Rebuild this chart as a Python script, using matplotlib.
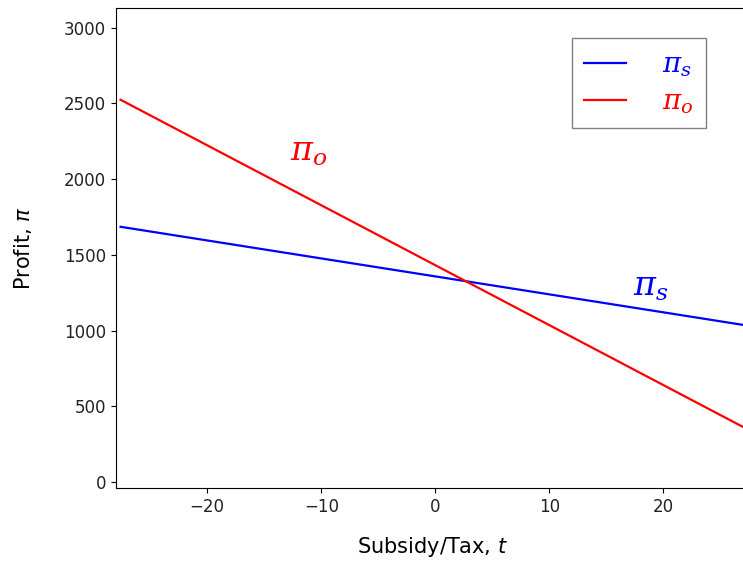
import matplotlib
matplotlib.use("Agg")
from matplotlib import pyplot as plt

# данные
t = [-27.6, 27.6]
pi_s = [1685, 1030]
pi_o = [2524, 339]

plt.rcParams['mathtext.fontset'] = 'dejavuserif'

fig = plt.figure(figsize=(7.43, 5.68), dpi=100)
ax = fig.add_axes([116 / 743, 80 / 568, 634 / 743, 480 / 568])

ax.plot(t, pi_s, color='blue', lw=1.6, label=r'$\pi_s$')
ax.plot(t, pi_o, color='red', lw=1.6, label=r'$\pi_o$')

ax.set_xlim(-28, 27.6)
ax.set_ylim(-40, 3130)
ax.set_xticks([-20, -10, 0, 10, 20])
ax.set_yticks([0, 500, 1000, 1500, 2000, 2500, 3000])
ax.tick_params(labelsize=12, labelcolor='#222222')

ax.set_xlabel(r'Subsidy/Tax, $t$', fontsize=15, labelpad=14,
              math_fontfamily='dejavusans')
ax.set_ylabel(r'Profit, $\pi$', fontsize=15, labelpad=22,
              math_fontfamily='dejavusans')

# подписи у линий
ax.text(-12.7, 2120, r'$\pi_o$', color='red', fontsize=24)
ax.text(17.3, 1230, r'$\pi_s$', color='blue', fontsize=24)

leg = ax.legend(loc='upper left', bbox_to_anchor=(0.719, 0.9375), fontsize=20,
                fancybox=False, edgecolor='gray', framealpha=1,
                handlelength=1.5, handletextpad=1.3, borderpad=0.45,
                borderaxespad=0, labelspacing=0.3)
for txt, line in zip(leg.get_texts(), leg.get_lines()):
    txt.set_color(line.get_color())

fig.savefig('out.png', dpi=100)
